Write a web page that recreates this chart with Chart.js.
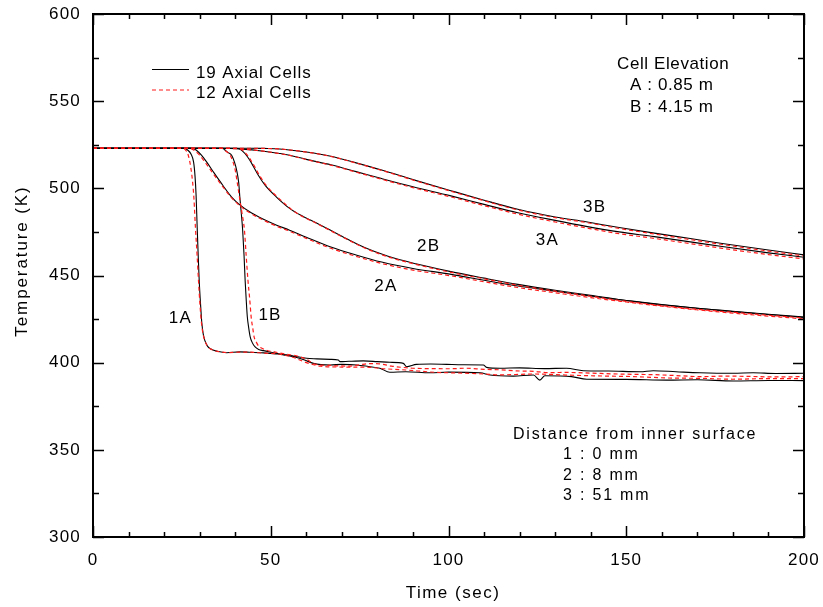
<!DOCTYPE html>
<html><head><meta charset="utf-8">
<script src="https://cdn.jsdelivr.net/npm/chart.js@4.4.1/dist/chart.umd.min.js"></script>
<style>html,body{margin:0;padding:0;background:#fff;}#c{display:block;}</style>
</head><body>
<canvas id="c" width="823" height="607"></canvas>
<script>
// ---------- data (time in sec, temperature in K) ----------
const xTicks = [0, 50, 100, 150, 200];
const yTicks = [300, 350, 400, 450, 500, 550, 600];

// 1A : 0 mm, elevation A
const t1A_19 = [0,25.8,26.6,27.6,28.3,28.7,29.0,29.3,29.6,29.9,30.3,30.6,31,31.5,32.2,33,35,37.6,41.3,44,48,52,55,57.3,59.5,62,66.7,70,74.2,77.5,80.7,83.5,88,94.8,100,108.9,111.7,118.2,123.9,125.7,127.1,134.6,138.9,150,161.4,170,180.1,190,200];
const T1A_19 = [523,523,522,519.5,515,507,496,478,461,446,432,423,416.5,412.5,409.5,408,406.5,405.7,406.2,406,405.6,405,404,403,401.5,399.6,398.7,399,398.7,397.8,396.8,394.5,394.8,394.2,394.6,394.2,392.9,392.3,392.9,390,392.5,392,390.5,390.4,390,390.2,389.5,389.8,389.7];
const t1A_12 = [0,25.3,26,26.8,27.5,28,28.4,28.8,29.3,29.7,30.1,30.5,31,31.5,32.2,33,35,38,41,44,48,52,55,57,60,64,70,76,82,88,96,104,110,114.5,124,133,142,152,162,171,180,190,200];
const T1A_12 = [523,523,522,519,512,504,494,478,461,446,433,423,416,412.5,409.5,408,406.5,405.8,406,406,405.5,405,403.8,402.5,400,398,397.5,397.5,396.5,395.8,394.5,394,393.5,393,393.5,392.9,392.4,392,391.2,391,390.5,390.9,390.8];

// 1B : 0 mm, elevation B
const t1B_19 = [0,36.5,37.1,38,39,39.8,40.4,41,41.3,41.7,42.1,42.5,42.8,43.1,43.4,43.8,44.2,44.8,45.6,46.6,47.9,50,52.6,56,60.1,63,66.7,69,69.5,72,76,80,83.5,87.3,88.2,91,95,99.5,104,109.8,110.7,114.5,120,127,133.2,137.9,145,153.9,157.6,164,170.7,180.1,185.7,192,200];
const T1B_19 = [523,523,522,520.5,519,515,510.5,503,495,486,476,461,447,436,426.5,420,415,411.5,409,407.6,406.9,406,405,404,402.5,402.2,401.9,401.5,400.6,400.8,401,400.6,400.2,399.6,397.7,399,399.2,399,398.8,398.7,397.3,396.8,397,396.6,396.8,395.4,395.2,394.8,395.4,394.8,394.2,393.9,394.2,393.8,393.9];
const t1B_12 = [0,36.2,36.8,37.6,38.6,39.4,40,40.6,41.2,41.9,42.6,43.1,43.6,44.1,44.5,45,45.3,46,46.6,47.8,49,51,54,58,60,62,64,66,69,72,75,78,81,84,87,90,95,100,105,110,114.5,119,124,128,133,140,146,152,158,164,171,178,185,192,200];
const T1B_12 = [523,523,522,521,519,515,510.5,503,495,486,476,461,447,436,426,419,415,411.5,409.5,408,407,406.2,405,403.5,402,399.5,398.6,398.5,398.2,398,398.8,399.5,399.2,398,397.3,396.8,396.6,396.5,396.8,396.2,395.9,395.3,395,394.3,394.4,394,393.6,393.3,393.1,392.6,392,392.3,392.1,391.8,392];

// 2A : 8 mm, elevation A
const t2A_19 = [0,27.8,29,30.5,32,34,36.6,39,41.3,44.5,47.8,51.5,55.3,60,66.9,74,81.2,90,100.4,110,119.5,130,140,150,160,170,180,190,200];
const T2A_19 = [523,523,522,519,515,509,501.5,495,490.5,486,482.4,479,476,472,466.4,461.8,457.7,454,450.8,447.3,444,441,438.2,435.7,433.3,431.2,429.3,427.6,426];
const t2A_12 = [0,27,28.3,30,31.5,33.6,36.3,38.8,41.3,44.5,47.8,51.5,55.3,60,66.9,74,81.2,90,100.4,110,119.5,130,140,150,160,170,180,190,200];
const T2A_12 = [523,523,522,519,515,509,501.5,495,490,485.5,481.9,478.4,475.4,471.3,465.6,461,456.9,453.1,449.9,446.4,443.1,440.1,437.3,434.8,432.4,430.3,428.4,426.7,425.1];

// 2B : 8 mm, elevation B
const t2B_19 = [0,40.5,42,43.5,45,46.5,48.5,51.6,55.3,58.5,62,66,70,76.4,83,90.8,100,110,119.5,130,140,148.3,160,170,177,190,200];
const T2B_19 = [523,523,521.5,518,513,507.5,501.5,495,488.5,484.5,481,476.8,472.5,466,461,456.7,452.5,448.5,444.9,441.5,438.6,436.1,433.2,431.2,430,427.8,426.2];
const t2B_12 = [0,40.8,42.3,43.8,45.3,46.8,48.8,51.9,55.5,58.5,62,66,70,76.4,83,90.8,100,110,119.5,130,140,148.3,160,170,177,190,200];
const T2B_12 = [523,523,521.5,518,513,507.5,501.5,495,488.5,484.3,480.8,476.6,472.3,465.8,460.7,456.4,452.1,448.1,444.4,441,438.1,435.6,432.7,430.6,429.4,427.2,425.6];

// 3A : 51 mm, elevation A
const t3A_19 = [0,36,42,48,52.5,55.3,60,66.9,74,81.2,90,100.4,110,119.5,130,138.7,148,157.9,168,177,190,200];
const T3A_19 = [523,523,522.5,521.3,520,519,516.6,513.5,509.6,505.6,500.9,495.8,490.8,486,481.6,478.2,475,472.3,469.3,466.6,463,460.5];
const t3A_12 = [0,36,42,48,52.5,55.3,60,66.9,74,81.2,90,100.4,110,119.5,130,138.7,148,157.9,168,177,190,200];
const T3A_12 = [523,523,522.5,521.3,519.9,518.9,516.5,513.3,509.3,505.2,500.4,495.2,490.1,485.2,480.7,477.3,474,471.3,468.3,465.6,462,459.5];

// 3B : 51 mm, elevation B
const t3B_19 = [0,44,48,52.5,60,66.9,74,81.2,90,100.4,110,119.5,130,138.7,148,157.9,168,177,190,200];
const T3B_19 = [523,523,522.9,522.6,520.8,518.4,514.6,510.5,505,498.8,493.2,488,483.6,480.8,477.5,474.3,471.2,468.4,464.6,461.8];
const t3B_12 = [0,44,48,52.5,60,66.9,74,81.2,90,100.4,110,119.5,130,138.7,148,157.9,168,177,190,200];
const T3B_12 = [523,523,522.9,522.6,520.8,518.3,514.5,510.3,504.8,498.5,492.9,487.6,483.2,480.4,477,473.8,470.6,467.8,464,461.2];

// curve labels (anchored in data space)
const curveLabels = ['1A','1B','2A','2B','3A','3B'];
const curveLabelX = [24.6, 49.8, 82.4, 94.4, 127.8, 141.1];
const curveLabelY = [425.3, 427.3, 444.0, 466.6, 470.1, 489.0];

const legendNames = ['19 Axial Cells', '12 Axial Cells'];
const noteElev = ['Cell Elevation', 'A : 0.85 m', 'B : 4.15 m'];
const noteDist = ['Distance from inner surface', '1 : 0 mm', '2 : 8 mm', '3 : 51 mm'];
const xTitle = 'Time (sec)';
const yTitle = 'Temperature (K)';

// ---------- chart ----------
const FONT = '"Liberation Sans", Arial, sans-serif';
const zip = (t, v) => t.map((x, i) => ({x: x, y: v[i]}));
const solid = (name, t, v) => ({label: name + ' 19', data: zip(t, v), borderColor: '#000', borderWidth: 1.1, order: 2});
const dashed = (name, t, v) => ({label: name + ' 12', data: zip(t, v), borderColor: '#ff1a1a', borderWidth: 1.2, borderDash: [4, 3], order: 1});

const datasets = [
  solid('1A', t1A_19, T1A_19), solid('1B', t1B_19, T1B_19),
  solid('2A', t2A_19, T2A_19), solid('2B', t2B_19, T2B_19),
  solid('3A', t3A_19, T3A_19), solid('3B', t3B_19, T3B_19),
  dashed('1A', t1A_12, T1A_12), dashed('1B', t1B_12, T1B_12),
  dashed('2A', t2A_12, T2A_12), dashed('2B', t2B_12, T2B_12),
  dashed('3A', t3A_12, T3A_12), dashed('3B', t3B_12, T3B_12)
];

const decor = {
  id: 'decor',
  beforeDraw(chart) { chart.ctx.letterSpacing = '1.2px'; },
  afterDraw(chart) {
    const ctx = chart.ctx;
    const {left, right, top, bottom} = chart.chartArea;
    const xs = chart.scales.x, ys = chart.scales.y;
    ctx.save();
    ctx.strokeStyle = '#000';
    ctx.lineWidth = 1.5;
    ctx.beginPath();
    for (let v = 0; v <= 200; v += 10) {
      const p = Math.round(xs.getPixelForValue(v)) + 0.5;
      const len = (v % 50 === 0) ? 11 : 5;
      ctx.moveTo(p, bottom); ctx.lineTo(p, bottom - len);
      ctx.moveTo(p, top); ctx.lineTo(p, top + len);
    }
    for (let v = 300; v <= 600; v += 25) {
      const p = Math.round(ys.getPixelForValue(v)) + 0.5;
      const len = (v % 50 === 0) ? 11 : 6;
      ctx.moveTo(left, p); ctx.lineTo(left + len, p);
      ctx.moveTo(right, p); ctx.lineTo(right - len, p);
    }
    ctx.stroke();
    ctx.lineWidth = 2;
    ctx.strokeRect(left, top, right - left, bottom - top);

    ctx.fillStyle = '#000';
    ctx.font = '17px ' + FONT;
    ctx.letterSpacing = '1.2px';
    // curve labels
    ctx.textAlign = 'center';
    ctx.textBaseline = 'middle';
    curveLabels.forEach((s, i) => {
      ctx.fillText(s, xs.getPixelForValue(curveLabelX[i]), ys.getPixelForValue(curveLabelY[i]));
    });
    // legend
    ctx.textAlign = 'left';
    ctx.textBaseline = 'alphabetic';
    ctx.lineWidth = 1.1;
    ctx.strokeStyle = '#000';
    ctx.setLineDash([]);
    ctx.beginPath(); ctx.moveTo(152, 69.5); ctx.lineTo(189, 69.5); ctx.stroke();
    ctx.strokeStyle = '#ff1a1a';
    ctx.lineWidth = 1.2;
    ctx.setLineDash([4, 3]);
    ctx.beginPath(); ctx.moveTo(152, 90); ctx.lineTo(189, 90); ctx.stroke();
    ctx.setLineDash([]);
    ctx.letterSpacing = '0.9px';
    ctx.fillText(legendNames[0], 196, 77.5);
    ctx.fillText(legendNames[1], 196, 97.5);
    // notes
    ctx.letterSpacing = '0.6px';
    ctx.fillText(noteElev[0], 617, 69);
    ctx.fillText(noteElev[1], 630, 90);
    ctx.fillText(noteElev[2], 630, 111.5);
    ctx.font = '16px ' + FONT;
    ctx.letterSpacing = '1.8px';
    ctx.fillText(noteDist[0], 513, 438.5);
    ctx.fillText(noteDist[1], 563, 458.5);
    ctx.fillText(noteDist[2], 563, 480);
    ctx.fillText(noteDist[3], 563, 500);
    // axis titles
    ctx.font = '17px ' + FONT;
    ctx.letterSpacing = '1.5px';
    ctx.textAlign = 'center';
    ctx.fillText(xTitle, 453, 597.5);
    ctx.translate(27, 261);
    ctx.rotate(-Math.PI / 2);
    ctx.letterSpacing = '1.9px';
    ctx.fillText(yTitle, 0, 0);
    ctx.restore();
  }
};

new Chart(document.getElementById('c'), {
  type: 'line',
  data: {datasets},
  options: {
    responsive: false, animation: false, devicePixelRatio: 1,
    layout: {padding: {top: 14, right: 19, left: 0, bottom: 0}},
    plugins: {legend: {display: false}, tooltip: {enabled: false}},
    elements: {point: {radius: 0}, line: {cubicInterpolationMode: 'monotone', fill: false}},
    scales: {
      x: {
        type: 'linear', min: 0, max: 200,
        grid: {display: false, drawTicks: false}, border: {display: false},
        ticks: {font: {family: FONT, size: 17}, color: '#000', padding: 13, maxRotation: 0, autoSkip: false},
        afterBuildTicks: s => { s.ticks = xTicks.map(v => ({value: v})); },
        afterFit: s => { s.height = 70; s.paddingLeft = 0; s.paddingRight = 0; }
      },
      y: {
        type: 'linear', min: 300, max: 600,
        grid: {display: false, drawTicks: false}, border: {display: false},
        ticks: {font: {family: FONT, size: 17}, color: '#000', padding: 12, autoSkip: false},
        afterBuildTicks: s => { s.ticks = yTicks.map(v => ({value: v})); },
        afterFit: s => { s.width = 93; s.paddingTop = 0; s.paddingBottom = 0; }
      }
    }
  },
  plugins: [decor]
});
</script>
</body></html>
